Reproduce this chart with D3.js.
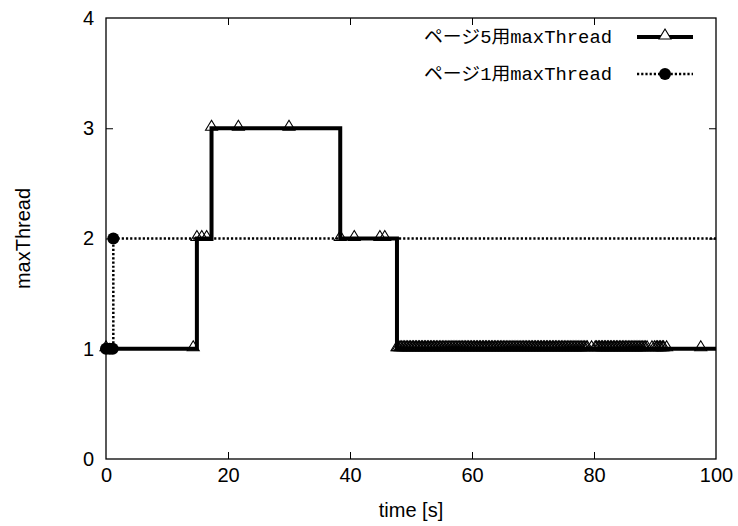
<!DOCTYPE html>
<html>
<head>
<meta charset="utf-8">
<script src="https://cdn.jsdelivr.net/npm/d3@7"></script>
<style>
  html, body { margin: 0; padding: 0; background: #fff; }
  svg { display: block; }
</style>
</head>
<body>
<svg id="chart" width="738" height="526"></svg>
<script>
// ---- data ----
const seriesNames = ["ページ5用maxThread", "ページ1用maxThread"];
const xTicks = [0, 20, 40, 60, 80, 100];
const yTicks = [0, 1, 2, 3, 4];

// page 5 series, busy phase: [time, maxThread]
const page5Busy = [
  [0, 1], [14.3, 1],
  [14.9, 2], [15.7, 2], [16.5, 2],
  [17.3, 3], [21.7, 3], [30.0, 3],
  [38.4, 2], [40.7, 2], [44.9, 2], [45.7, 2]
];
// page 5 series, idle phase: times at which maxThread = 1
const page5IdleLevel = 1;
const page5IdleTimes = [
  47.7, 47.9, 48.2, 48.4, 48.7, 48.9, 49.2, 49.4, 49.7, 49.9, 50.2, 50.4, 50.7, 50.9,
  51.2, 51.4, 51.7, 51.9, 52.2, 52.4, 52.7, 52.9, 53.2, 53.4, 53.7, 53.9, 54.2, 54.4,
  54.7, 54.9, 55.2, 55.4, 55.7, 55.9, 56.2, 56.4, 56.7, 56.9, 57.2, 57.4, 57.7, 57.9,
  58.2, 58.4, 58.7, 58.9, 59.2, 59.4, 59.7, 59.9, 60.2, 60.4, 60.7, 60.9, 61.2, 61.4,
  61.7, 61.9, 62.2, 62.4, 62.7, 62.9, 63.2, 63.4, 63.7, 63.9, 64.2, 64.4, 64.7, 64.9,
  65.2, 65.4, 65.7, 65.9, 66.2, 66.4, 66.7, 66.9, 67.2, 67.4, 67.7, 67.9, 68.2, 68.4,
  68.7, 68.9, 69.2, 69.4, 69.7, 69.9, 70.2, 70.4, 70.7, 70.9, 71.2, 71.4, 71.7, 71.9,
  72.2, 72.4, 72.7, 72.9, 73.2, 73.4, 73.7, 73.9, 74.2, 74.4, 74.7, 74.9, 75.2, 75.4,
  75.7, 75.9, 76.2, 76.4, 76.7, 76.9, 77.2, 77.4, 77.7, 77.9, 78.2, 78.4, 78.7, 78.9,
  79.6, 80.2, 80.4, 80.7, 80.9, 81.2, 81.4, 81.7, 81.9, 82.2, 82.4, 82.7, 82.9, 83.2,
  83.4, 83.7, 83.9, 84.2, 84.4, 84.7, 84.9, 85.2, 85.4, 85.7, 85.9, 86.2, 86.4, 86.7,
  86.9, 87.2, 87.4, 87.7, 87.9, 88.2, 88.4, 88.7, 89.5, 89.9, 90.2, 90.4, 90.7, 90.9,
  91.2, 91.4, 91.9, 97.5, 101
];

// page 1 series: [time, maxThread]
const page1 = [
  [0, 1], [0.6, 1], [1.1, 1],
  [1.2, 2], [101, 2]
];

const page5 = page5Busy.concat(page5IdleTimes.map(t => [t, page5IdleLevel]));

// ---- layout ----
const svg = d3.select("#chart");
const L = 106, R = 716, T = 18, B = 459;
const x = d3.scaleLinear().domain([0, 100]).range([L, R]);
const y = d3.scaleLinear().domain([0, 4]).range([B, T]);
const tickFont = "'Liberation Sans', Arial, Helvetica, sans-serif";
const fs = "20px";

svg.append("defs").append("clipPath").attr("id", "plotclip")
  .append("rect").attr("x", L).attr("y", T).attr("width", R - L).attr("height", B - T);

// axes (ticks inward, mirrored)
const tickLen = 7;
const fmt = d3.format("d");
const gx = svg.append("g").attr("transform", `translate(0,${B})`)
  .call(d3.axisBottom(x).tickValues(xTicks).tickFormat(fmt).tickSizeInner(-tickLen).tickSizeOuter(0).tickPadding(9));
const gxTop = svg.append("g").attr("transform", `translate(0,${T})`)
  .call(d3.axisTop(x).tickValues(xTicks).tickSizeInner(-tickLen).tickSizeOuter(0).tickFormat(""));
const gy = svg.append("g").attr("transform", `translate(${L},0)`)
  .call(d3.axisLeft(y).tickValues(yTicks).tickFormat(fmt).tickSizeInner(-tickLen).tickSizeOuter(0).tickPadding(12));
const gyR = svg.append("g").attr("transform", `translate(${R},0)`)
  .call(d3.axisRight(y).tickValues(yTicks).tickSizeInner(-tickLen).tickSizeOuter(0).tickFormat(""));

[gx, gxTop, gy, gyR].forEach(g => {
  g.select(".domain").remove();
  g.selectAll(".tick line").attr("stroke", "#000").attr("stroke-width", 1);
  g.selectAll(".tick text").attr("fill", "#000")
    .style("font-family", tickFont).style("font-size", fs);
});
gx.selectAll(".tick").filter(d => d === 0 || d === 100).select("line").remove();
gxTop.selectAll(".tick").filter(d => d === 0 || d === 100).select("line").remove();
gy.selectAll(".tick").filter(d => d === 0 || d === 4).select("line").remove();
gyR.selectAll(".tick").filter(d => d === 0 || d === 4).select("line").remove();

// frame
svg.append("rect").attr("x", L).attr("y", T).attr("width", R - L).attr("height", B - T)
  .attr("fill", "none").attr("stroke", "#000").attr("stroke-width", 1.3);

// axis titles
svg.append("text").attr("x", (L + R) / 2).attr("y", 517).attr("text-anchor", "middle")
  .style("font-family", tickFont).style("font-size", fs).text("time [s]");
svg.append("text").attr("transform", `translate(30,${(T + B) / 2}) rotate(-90)`)
  .attr("text-anchor", "middle")
  .style("font-family", tickFont).style("font-size", fs).text("maxThread");

// lines
const stepLine = d3.line().x(d => x(d[0])).y(d => y(d[1])).curve(d3.curveStepAfter);
const plot = svg.append("g").attr("clip-path", "url(#plotclip)");

plot.append("path").datum(page1).attr("d", stepLine)
  .attr("fill", "none").attr("stroke", "#000").attr("stroke-width", 2.5)
  .attr("stroke-dasharray", "2.2,2");
plot.append("path").datum(page5).attr("d", stepLine)
  .attr("fill", "none").attr("stroke", "#000").attr("stroke-width", 4)
  .attr("stroke-linejoin", "miter");

// markers
const triPath = (cx, cy) => `M${cx},${cy - 8}L${cx + 6},${cy + 2}L${cx - 6},${cy + 2}Z`;
const inRange = d => d[0] >= 0 && d[0] <= 100;

svg.append("g").selectAll("path").data(page5.filter(inRange)).join("path")
  .attr("d", d => triPath(x(d[0]), y(d[1])))
  .attr("fill", "none").attr("stroke", "#000").attr("stroke-width", 1.1);

svg.append("g").selectAll("circle").data(page1.filter(inRange)).join("circle")
  .attr("cx", d => x(d[0])).attr("cy", d => y(d[1])).attr("r", 6).attr("fill", "#000");

// legend
const legendFont = "'Liberation Mono', 'Noto Sans CJK JP', monospace";
const legY = [37, 74];
const lg = svg.append("g");
seriesNames.forEach((name, i) => {
  lg.append("text").attr("x", 612).attr("y", legY[i]).attr("text-anchor", "end")
    .attr("dy", "0.35em")
    .attr("textLength", 188).attr("lengthAdjust", "spacingAndGlyphs")
    .style("font-family", legendFont).style("font-size", "18px").text(name);
});
lg.append("line").attr("x1", 637).attr("x2", 693).attr("y1", legY[0]).attr("y2", legY[0])
  .attr("stroke", "#000").attr("stroke-width", 4);
lg.append("path").attr("d", triPath(665, legY[0]))
  .attr("fill", "#fff").attr("stroke", "#000").attr("stroke-width", 1.1);
lg.append("line").attr("x1", 637).attr("x2", 693).attr("y1", legY[1]).attr("y2", legY[1])
  .attr("stroke", "#000").attr("stroke-width", 2.5).attr("stroke-dasharray", "2.2,2");
lg.append("circle").attr("cx", 665).attr("cy", legY[1]).attr("r", 6).attr("fill", "#000");
</script>
</body>
</html>
